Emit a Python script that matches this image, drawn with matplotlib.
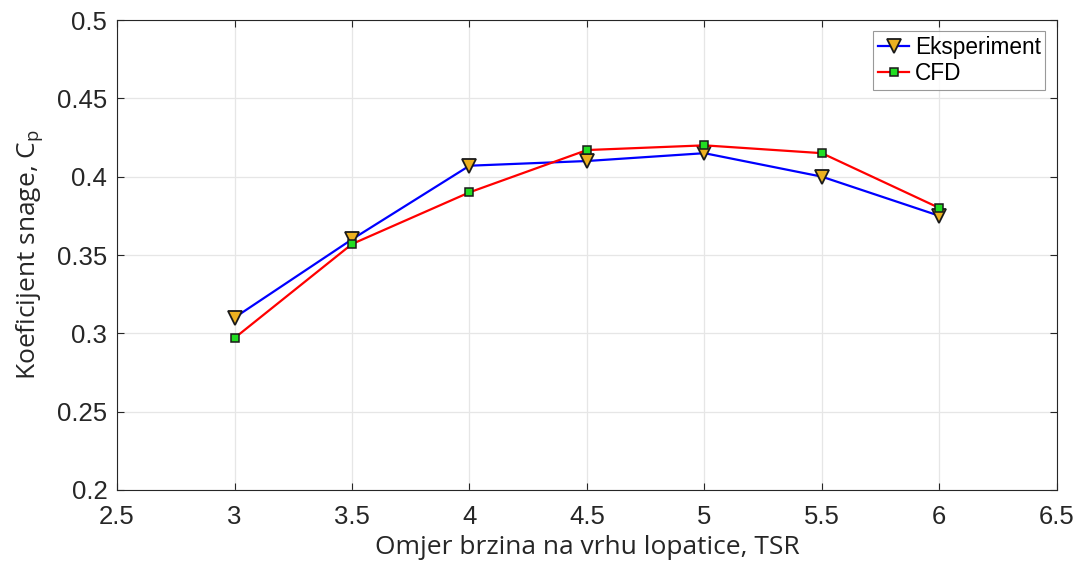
import matplotlib
matplotlib.use("Agg")
import matplotlib.pyplot as plt
import matplotlib.font_manager as fm

tsr = [3, 3.5, 4, 4.5, 5, 5.5, 6]
cp_exp = [0.310, 0.360, 0.407, 0.410, 0.415, 0.400, 0.375]
cp_cfd = [0.297, 0.357, 0.390, 0.417, 0.420, 0.415, 0.380]
xticks = [2.5, 3, 3.5, 4, 4.5, 5, 5.5, 6, 6.5]
yticks = [0.2, 0.25, 0.3, 0.35, 0.4, 0.45, 0.5]

# locate the regular (non-narrow) Liberation Sans file
lib_path = None
for f in fm.fontManager.ttflist:
    base = f.fname.replace('\\', '/').split('/')[-1]
    if base.lower() == 'liberationsans-regular.ttf':
        lib_path = f.fname
        break

def tick_fp(size):
    if lib_path:
        return fm.FontProperties(fname=lib_path, size=size)
    return fm.FontProperties(family='DejaVu Sans', size=size)

plt.rcParams['font.family'] = ['DejaVu Sans']
plt.rcParams['mathtext.fontset'] = 'custom'
plt.rcParams['mathtext.rm'] = 'Open Sans'

fig = plt.figure(figsize=(10.74, 5.61), dpi=100)
ax = fig.add_axes([0.109, 0.1266, 0.875, 0.8377])

ax.plot(tsr, cp_exp, color='#0000ff', lw=1.6, marker='v', ms=10,
        mfc='#EDB120', mec='#1a1a1a', mew=1.3, label='Eksperiment', zorder=3)
ax.plot(tsr, cp_cfd, color='#ff0000', lw=1.6, marker='s', ms=6,
        mfc='#22dd22', mec='#1a1a1a', mew=1.1, label='CFD', zorder=4)

ax.set_xlim(2.5, 6.5)
ax.set_ylim(0.2, 0.5)
ax.set_xticks(xticks)
ax.set_xticklabels([f"{v:g}" for v in xticks], fontproperties=tick_fp(18.5))
ax.set_yticks(yticks)
ax.set_yticklabels([f"{v:g}" for v in yticks], fontproperties=tick_fp(18.5))
ax.grid(True, color='#e6e6e6', lw=0.9)
ax.set_axisbelow(True)
for s in ax.spines.values():
    s.set_color('#262626')
    s.set_linewidth(0.8)
ax.tick_params(direction='in', length=5, width=0.8, colors='#262626',
               labelcolor='#262626', top=True, right=True)
ax.tick_params(axis='x', pad=11)
ax.tick_params(axis='y', pad=7)

ax.set_xlabel('Omjer brzina na vrhu lopatice, TSR', fontsize=19, color='#262626',
              labelpad=4, family=['Open Sans', 'DejaVu Sans'])
ax.set_ylabel('Koeficijent snage, C$_\\mathregular{p}$', fontsize=19, color='#262626',
              labelpad=8, family=['Open Sans', 'DejaVu Sans'])

leg = ax.legend(loc='upper right', prop=tick_fp(16.3), frameon=True, fancybox=False,
                edgecolor='#808080', handlelength=1.4, handletextpad=0.25,
                borderaxespad=0.5, borderpad=0.2, labelspacing=0.15)
leg.get_frame().set_linewidth(0.8)

fig.savefig('out.png', dpi=100)
